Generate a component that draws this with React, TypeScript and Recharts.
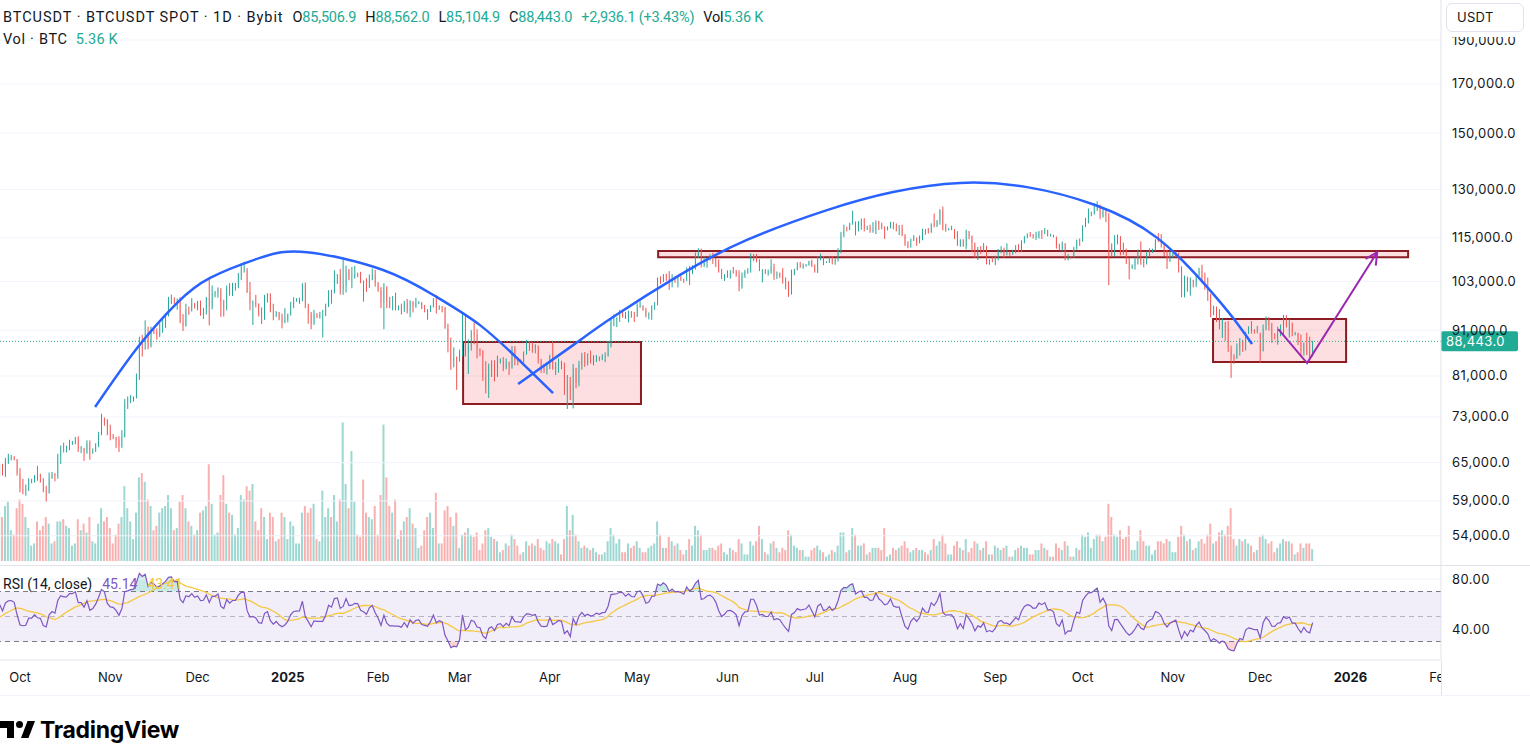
import { Area, Bar, ComposedChart, Line, ReferenceArea, ReferenceLine, Scatter, XAxis, YAxis } from "recharts";

const FONT = "Inter, 'Noto Sans', sans-serif";
const LEGEND_FONT = "Roboto, 'Noto Sans', sans-serif";
const TEXT = "#131722";
const GRID = "#f0f3fa";
const BORDER = "#e0e3eb";
const UP = "#26a69a";
const DOWN = "#ef5350";
const UP_VOL = "rgba(38,166,154,0.45)";
const DOWN_VOL = "rgba(239,83,80,0.45)";
const GREEN_TEXT = "#22ab94";
const BLUE = "#2962ff";
const MAROON = "#8a1c22";
const PURPLE = "#9c27b0";
const RSI_LINE = "#7e57c2";
const RSI_MA = "#f5c842";

const W = 1530;
const AXIS_W = 89;
const PRICE_H = 565;
const RSI_H = 95;
const TIME_H = 35;

// day index: 0 = 1 Oct 2024
const FIRST_DAY = -7;
const X_DOMAIN: [number, number] = [-6.87, 488.1];
const PRICE_DOMAIN: [number, number] = [50140, 210300];
const priceTicks = [54000, 59000, 65000, 73000, 81000, 91000, 103000, 115000, 130000, 150000, 170000, 190000];
const monthTicks = [0, 31, 61, 92, 123, 151, 182, 212, 243, 273, 304, 335, 365, 396, 426, 457, 488];
const monthLabels = ["Oct", "Nov", "Dec", "2025", "Feb", "Mar", "Apr", "May", "Jun", "Jul", "Aug", "Sep", "Oct", "Nov", "Dec", "2026", "Feb"];

// closes before the visible range (26 Aug - 23 Sep 2024), only used to seed RSI, in thousands
const warmupCloses = [
  62.9, 59.5, 59.0, 59.4, 59.1, 58.9, 57.3, 59.1, 57.5, 58.0, 56.2, 53.9, 54.2, 54.9,
  57.0, 57.6, 57.3, 58.1, 60.5, 60.0, 59.1, 58.2, 60.3, 61.8, 62.9, 63.2, 63.3, 63.6, 63.3,
];

// daily closes, thousands USDT, 24 Sep 2024 - 19 Dec 2025
const closes = [
  64.3, 63.1, 65.2, 65.8, 65.9, 65.6, 63.3,
  60.8, 60.6, 60.7, 62.1, 62.1, 62.8, 62.2, 62.1, 60.6, 60.3, 62.5, 63.2, 62.9, 66.1, 67.6, 67.4, 67.4, 68.4, 68.4, 69.0, 67.4, 67.4, 66.7, 68.2, 66.6, 67.0, 68.0, 69.9, 72.7, 72.3, 70.2,
  69.5, 69.4, 68.8, 67.8, 69.4, 75.6, 75.9, 76.5, 76.7, 80.4, 88.7, 88.0, 90.5, 87.3, 91.1, 90.6, 89.8, 90.5, 92.3, 94.3, 98.4, 98.9, 97.7, 98.0, 93.0, 91.9, 95.9, 95.6, 97.5, 96.4,
  97.2, 95.8, 96.0, 98.8, 96.6, 99.9, 99.9, 101.2, 97.4, 96.7, 101.2, 100.0, 101.4, 101.4, 104.3, 106.1, 106.1, 100.2, 97.5, 97.8, 97.2, 95.2, 94.9, 98.7, 99.4, 95.8, 94.2, 95.2, 93.7, 92.8, 93.4,
  94.6, 96.9, 98.1, 98.2, 98.3, 102.1, 96.9, 95.0, 92.5, 94.7, 94.5, 94.5, 94.5, 96.5, 100.5, 99.9, 104.1, 104.5, 101.1, 102.0, 106.1, 103.7, 103.9, 104.8, 104.7, 102.6, 102.1, 101.3, 103.7, 104.7, 102.4,
  100.6, 97.7, 101.4, 97.9, 96.6, 96.6, 96.5, 96.5, 96.1, 97.4, 95.7, 97.9, 96.6, 97.5, 97.6, 96.1, 95.8, 95.5, 96.6, 98.3, 96.1, 96.6, 96.3, 91.5, 88.7, 84.3, 84.7, 84.3,
  86.0, 94.3, 86.1, 87.2, 90.6, 89.9, 86.7, 86.2, 80.7, 78.5, 82.9, 83.7, 81.1, 83.9, 84.3, 82.6, 84.0, 82.7, 86.8, 84.2, 84.1, 83.8, 86.1, 87.5, 87.4, 86.9, 87.2, 84.4, 82.6, 82.4, 82.5,
  85.2, 82.5, 83.1, 83.8, 83.5, 78.4, 79.2, 76.3, 82.6, 79.6, 83.4, 85.3, 83.7, 84.5, 83.7, 84.0, 84.9, 84.5, 85.1, 85.2, 87.5, 93.4, 93.7, 93.9, 94.7, 94.6, 93.8, 94.9, 94.3, 94.2,
  96.5, 96.9, 95.9, 94.3, 94.7, 96.8, 97.0, 103.2, 102.9, 104.6, 104.1, 102.8, 104.1, 103.5, 103.7, 103.5, 103.2, 106.4, 105.6, 106.8, 109.6, 111.7, 107.3, 107.8, 109.0, 109.4, 108.9, 107.8, 105.6, 103.9, 104.6,
  105.7, 105.8, 105.4, 104.7, 101.6, 104.4, 105.6, 105.7, 110.3, 110.3, 108.7, 105.9, 106.1, 105.5, 105.5, 106.8, 104.6, 104.9, 104.6, 103.3, 102.1, 101.0, 105.4, 106.0, 107.3, 106.9, 107.1, 107.3, 108.4, 107.1,
  105.7, 108.8, 109.6, 108.0, 108.2, 109.2, 108.3, 108.9, 111.3, 115.9, 117.5, 117.4, 119.1, 119.8, 117.7, 118.7, 119.3, 117.9, 117.9, 117.3, 117.4, 119.9, 118.8, 118.3, 117.6, 117.9, 119.4, 118.0, 117.8, 117.8, 115.7,
  113.3, 112.5, 114.2, 115.0, 114.1, 115.0, 117.5, 116.6, 116.5, 119.3, 118.7, 120.2, 123.3, 118.3, 117.4, 117.5, 117.5, 116.3, 112.9, 114.3, 112.5, 116.9, 115.4, 113.5, 110.1, 111.8, 111.2, 112.6, 108.4, 108.8, 108.2,
  109.2, 111.2, 111.7, 110.7, 110.7, 110.2, 111.1, 112.1, 111.5, 113.9, 115.5, 116.1, 115.9, 115.3, 115.4, 116.8, 116.5, 117.1, 115.7, 115.7, 115.3, 112.7, 112.0, 113.3, 109.0, 109.7, 109.6, 112.1, 114.4, 114.0,
  118.6, 120.6, 122.3, 122.4, 123.5, 124.8, 121.4, 123.3, 121.7, 113.2, 110.7, 115.2, 115.3, 113.1, 110.8, 108.2, 106.4, 107.2, 108.6, 110.5, 108.4, 107.6, 110.1, 111.0, 111.6, 114.5, 114.1, 112.9, 110.0, 108.3, 109.6,
  110.1, 110.6, 106.5, 101.5, 103.9, 101.3, 103.3, 102.3, 104.7, 105.9, 103.0, 101.6, 99.7, 94.6, 95.5, 94.2, 92.2, 92.9, 91.5, 86.6, 85.1, 84.7, 86.8, 88.3, 87.4, 90.5, 91.3, 90.9, 90.4, 90.4,
  86.3, 91.3, 93.5, 92.1, 89.4, 89.3, 90.4, 90.6, 92.7, 92.0, 92.5, 90.3, 90.3, 88.2, 86.4, 87.9, 86.1, 85.5069, 88.443,
];

// upper wick above the body, thousands
const upperWicks = [
  0.5, 0.5, 0.6, 0.7, 0.4, 0.2, 0,
  0.8, 1.6, 0.8, 0.4, 0.3, 0.2, 1.7, 1.0, 0.4, 0.7, 0.9, 0.3, 0.1, 0.4, 0.3, 0.8, 0.5, 0.5, 0.3, 0.4, 0.5, 0.4, 0.1, 0.6, 0.6, 0.4, 0.3, 0.4, 0.9, 0.2, 0.3,
  1.4, 0.4, 0, 0.7, 1.2, 0.8, 1.0, 0.7, 0.2, 1.1, 0.8, 1.2, 2.8, 1.3, 0.7, 0.8, 0.8, 2.1, 1.7, 0.6, 0.6, 0.7, 0, 0.6, 0.9, 1.8, 1.4, 0.7, 1.2, 0,
  0.8, 0.9, 0.3, 0.2, 4.8, 2.0, 0.6, 0.2, 0, 0.9, 0.7, 1.3, 1.2, 1.2, 0.9, 1.7, 2.2, 0.4, 2.6, 0.3, 1.7, 0.2, 1.2, 0.8, 0.5, 0.5, 1.5, 0.3, 0.1, 1.2, 2.8,
  0.3, 0.9, 0.8, 0.5, 0.5, 0.4, 0.6, 0.4, 0.3, 1.1, 0.3, 0.8, 1.3, 0.8, 0.2, 0.3, 1.8, 0.4, 1.8, 7.4, 1.1, 0.2, 2.9, 2.3, 0.5, 0.8, 0.6, 1.7, 1.1, 1.7, 1.3,
  0.4, 0.9, 1.1, 0.3, 1.1, 2.6, 3.5, 0.4, 0.8, 0.6, 1.1, 0.2, 0, 1.3, 0.3, 0.1, 0.9, 0.2, 0.3, 0.4, 1.2, 0.3, 0.1, 0.2, 1.0, 0.6, 2.4, 0.4,
  0.6, 0.7, 0.1, 1.7, 0.4, 2.2, 1.3, 0.2, 0.3, 3.4, 0.7, 0.6, 0.6, 1.4, 0.4, 0.7, 0.7, 0, 0.6, 0.6, 0.6, 0.4, 0.1, 1.3, 1.0, 0.9, 0.6, 0.3, 0.2, 0.9, 1.4,
  0.3, 3.3, 0.8, 0.9, 0.4, 0.3, 2.0, 1.6, 0.9, 0.1, 0.8, 0.6, 0.8, 1.3, 1.9, 1.4, 0.5, 0.2, 0.5, 0.8, 1.0, 0.5, 1.0, 0.1, 1.1, 0.6, 0.7, 0.7, 0.6, 1.0,
  0.9, 1.0, 0, 0.4, 0.5, 0.1, 0.7, 0.8, 1.1, 0.3, 0.4, 1.6, 0.8, 0.2, 0.5, 0.8, 0.2, 0.3, 0.7, 0.5, 1.2, 0.3, 0.2, 1.7, 0.3, 1.0, 1.3, 0.4, 1.1, 0.7, 0.3,
  0.2, 0.1, 1.0, 0.6, 1.2, 0.9, 0.4, 0.8, 0.3, 0.1, 0.1, 0.2, 0.1, 0.1, 0.6, 2.1, 0.9, 0.7, 0.4, 1.9, 0.7, 0.9, 0.7, 0.3, 0.8, 0.9, 0.7, 0.3, 0.1, 0.4,
  0.4, 1.0, 0.9, 0.2, 0.2, 0.5, 0.5, 0.3, 0.7, 0.9, 1.4, 0.8, 0.4, 3.4, 0.1, 1.3, 1.5, 1.6, 0.7, 1.0, 2.3, 0.3, 0.2, 0.7, 0.1, 0.5, 0.4, 0.4, 1.3, 1.0, 1.1,
  0.4, 0.7, 0.6, 0.8, 0.1, 0.7, 0.2, 0.1, 1.3, 0, 3.0, 0.1, 0.4, 1.2, 0.9, 0.4, 1.1, 0.1, 0.7, 0.3, 0.3, 0.5, 0.1, 0.3, 0.1, 0.6, 0.8, 0.9, 0.1, 0.1, 0.7,
  0.7, 0.6, 0.9, 0.5, 2.7, 0.5, 0.5, 0.8, 1.1, 0.4, 0, 0.2, 0.6, 0.2, 1.4, 0.2, 0.5, 0.8, 0.3, 0.5, 0.2, 0.1, 0.6, 0.6, 0.2, 0.6, 0.1, 0.3, 0.1, 0.4,
  0.1, 0.4, 1.6, 0.5, 1.9, 1.4, 0.3, 0.9, 0.5, 0.8, 0.2, 0.6, 0.7, 0.2, 0.5, 1.1, 1.1, 0.3, 0.8, 1.2, 3.5, 0.6, 1.1, 1.0, 0.3, 0.1, 1.9, 2.0, 0.7, 1.6, 1.6,
  0.5, 0.6, 0.2, 0.5, 0.6, 0.3, 0.7, 0.1, 0.3, 0.7, 1.5, 2.3, 2.4, 0.1, 1.3, 1.1, 1.8, 0.9, 0, 1.6, 0.9, 0.5, 1.2, 0.9, 0.5, 0.1, 0.6, 1.8, 0.3, 1.6,
  0, 1.0, 0.7, 0.6, 0.6, 0.9, 1.4, 1.7, 1.9, 1.8, 1.1, 0.3, 0.3, 0.1, 1.8, 0.3, 2.5, 3.4, 0.119,
];

// lower wick below the body, thousands
const lowerWicks = [
  0.6, 0.2, 0.4, 0.4, 0.4, 0.2, 0.4,
  0.5, 0.6, 0.8, 0.2, 0.4, 0.3, 0.1, 0.3, 0.3, 1.4, 0.2, 0.1, 0.9, 0.5, 1.3, 0.7, 0.7, 0.3, 0.4, 0.3, 0.6, 0.8, 1.4, 0.2, 1.1, 0.1, 0.2, 0.4, 0.2, 0.9, 0.5,
  0.7, 0.4, 1.3, 1.0, 0.3, 0.1, 1.1, 0.3, 0.6, 0.2, 0.2, 2.9, 1.4, 0.6, 0.2, 0.5, 1.0, 0.4, 0.1, 0.8, 0.1, 1.2, 0.5, 1.9, 0.4, 1.1, 0.1, 1.0, 0.2, 0.3,
  0.7, 1.4, 2.2, 1.3, 4.5, 0.7, 1.0, 1.1, 3.3, 2.5, 1.0, 0.7, 0.8, 0.8, 0.2, 1.0, 0.8, 0.2, 1.8, 5.3, 0.8, 1.0, 2.5, 1.5, 1.1, 0.6, 0.9, 0.1, 0.4, 1.4, 0.2,
  0.6, 0.2, 0.7, 0.3, 0.9, 0.4, 0.7, 2.5, 1.3, 0.3, 0.7, 0.8, 5.2, 0.2, 0, 2.6, 0, 1.8, 1.5, 1.6, 1.9, 0.4, 2.5, 0.2, 0.6, 0.1, 4.3, 1.0, 0, 0.4, 0.8,
  0.3, 1.5, 6.5, 1.7, 0.4, 0.9, 0.8, 0.8, 1.4, 0.8, 0.8, 1.7, 1.4, 0.3, 0.3, 0.1, 0.6, 2.1, 0.2, 0.2, 1.2, 0.3, 1.1, 0.2, 2.7, 2.0, 1.5, 6.1,
  0.3, 0.9, 1.0, 4.7, 0.8, 2.1, 2.0, 1.0, 0.7, 1.0, 1.9, 2.1, 1.2, 0.3, 0.3, 0.6, 0.2, 1.5, 0.2, 1.0, 0.9, 0.1, 0, 0.6, 1.1, 1.0, 1.1, 0.8, 1.0, 0.8, 1.1,
  0.1, 0.2, 1.3, 1.4, 1.1, 1.2, 3.9, 0.1, 1.7, 1.1, 0.7, 1.1, 0.8, 0.5, 0.1, 0.5, 0.1, 0.4, 0.2, 1.2, 0.1, 0.4, 1.5, 2.0, 1.0, 0.7, 0.2, 1.0, 0.4, 1.3,
  0.1, 0.2, 0.3, 0.3, 0.8, 1.3, 1.0, 0.1, 0.6, 0.1, 1.0, 2.0, 1.4, 0.9, 2.1, 0.4, 0.6, 0.1, 3.6, 0.7, 0.7, 0.3, 0.6, 0.5, 1.2, 0.4, 1.3, 1.0, 0.3, 0.3, 0.8,
  0.7, 2.0, 0.4, 0.5, 1.2, 0.5, 0.5, 0.6, 0.4, 1.9, 0.6, 0.2, 3.2, 0.6, 1.0, 0.5, 1.2, 1.0, 0.7, 0.9, 1.2, 2.0, 1.4, 0.8, 0.1, 0.3, 0.6, 0.2, 0.1, 0.3,
  0.4, 0.5, 0.2, 0.7, 0.1, 0.3, 0.8, 0.9, 0.6, 0.7, 0.7, 0.5, 0.1, 0.2, 2.0, 0.8, 1.3, 1.0, 0.6, 0.8, 0.8, 1.3, 1.5, 0.8, 2.9, 0.4, 0.1, 0.5, 0.9, 2.0, 0.2,
  0.6, 0.5, 0.3, 0.1, 1.4, 0.7, 0.7, 0.7, 0.2, 0, 0.6, 0.5, 1.3, 1.1, 0.6, 0.2, 0.2, 1.6, 0.2, 0.5, 0.1, 0.8, 0.8, 2.6, 0.8, 1.4, 0.8, 0.3, 0.9, 1.0, 0.1,
  0.9, 0.6, 0.6, 1.4, 0.7, 0.3, 0, 0.5, 0.6, 0.6, 0.5, 0.6, 0.6, 0.5, 0.9, 0.6, 1.8, 0.4, 0.3, 0.3, 0.2, 0.8, 0.6, 0.9, 0.4, 0.4, 0.5, 0.3, 0.5, 1.3,
  0.1, 0.4, 1.3, 0.8, 0.4, 0.4, 0.8, 0.3, 2.0, 11.2, 1.1, 1.0, 2.1, 3.1, 0.6, 0.6, 2.9, 0.1, 1.1, 1.1, 1.0, 0.9, 0.1, 0.5, 0.3, 0.3, 0.3, 0.7, 0.2, 2.0, 0.1,
  0.2, 0.6, 1.2, 2.6, 2.6, 1.0, 2.0, 0.9, 0.8, 0.4, 0.5, 0.8, 1.7, 0.6, 0.1, 1.3, 1.0, 3.0, 2.9, 0.5, 4.5, 1.2, 0.1, 1.5, 1.3, 1.0, 0.4, 0.7, 0.2, 0.1,
  2.5, 0.1, 0.3, 1.2, 1.3, 0.4, 1.6, 0.8, 1.0, 0.4, 2.7, 0.7, 0.5, 0.6, 1.2, 1.1, 0.7, 1.0, 0.402,
];

// volume, thousand BTC
const volumes = [
  22, 20, 25, 27, 14, 12, 24,
  28, 26, 20, 15, 7, 8, 18, 14, 16, 20, 17, 8, 9, 18, 18, 19, 16, 15, 7, 8, 19, 14, 17, 13, 20, 9, 8, 17, 24, 18, 20,
  15, 8, 12, 17, 20, 34, 24, 18, 10, 22, 38, 40, 36, 28, 25, 14, 16, 22, 24, 25, 30, 24, 14, 15, 27, 30, 24, 18, 16, 12,
  14, 22, 23, 25, 44, 26, 12, 13, 30, 39, 26, 22, 21, 12, 15, 30, 28, 34, 32, 35, 18, 14, 24, 20, 10, 22, 20, 9, 10, 22, 20,
  10, 18, 16, 8, 8, 22, 25, 22, 24, 26, 10, 9, 32, 20, 24, 20, 30, 18, 28, 63, 35, 24, 50, 27, 12, 11, 37, 22, 20, 19, 25,
  12, 30, 62, 38, 25, 22, 28, 10, 14, 18, 20, 24, 17, 15, 6, 7, 14, 20, 22, 15, 31, 8, 8, 23, 25, 20, 16, 22,
  6, 12, 13, 15, 12, 11, 13, 5, 8, 14, 15, 11, 10, 9, 4, 5, 8, 7, 12, 10, 7, 3, 4, 9, 7, 8, 7, 10, 6, 5, 9,
  8, 10, 9, 8, 3, 10, 25, 14, 21, 12, 9, 6, 7, 6, 5, 6, 4, 3, 3, 4, 9, 15, 12, 8, 10, 4, 4, 8, 6, 7,
  9, 6, 4, 4, 6, 7, 8, 18, 12, 6, 6, 11, 9, 7, 8, 5, 3, 5, 10, 7, 16, 14, 12, 5, 5, 6, 6, 5, 7, 8, 4,
  3, 6, 5, 4, 10, 8, 3, 3, 9, 7, 9, 16, 10, 4, 3, 8, 9, 6, 4, 6, 5, 14, 12, 7, 6, 5, 5, 2, 2, 5,
  6, 7, 5, 4, 2, 3, 5, 4, 7, 13, 13, 4, 5, 15, 12, 7, 7, 8, 3, 4, 6, 6, 6, 5, 15, 2, 3, 6, 5, 6, 7,
  9, 6, 4, 5, 6, 5, 5, 4, 3, 5, 10, 7, 9, 12, 8, 3, 3, 7, 9, 6, 5, 10, 4, 6, 9, 8, 5, 6, 9, 3, 3,
  7, 6, 5, 6, 7, 2, 2, 5, 6, 7, 6, 6, 3, 3, 5, 5, 8, 6, 5, 2, 2, 8, 6, 5, 9, 7, 2, 2, 6, 5,
  12, 11, 13, 6, 10, 12, 12, 9, 11, 26, 20, 12, 11, 14, 10, 11, 16, 5, 5, 9, 14, 9, 7, 7, 3, 5, 9, 9, 8, 10, 9,
  4, 4, 11, 16, 12, 9, 10, 5, 6, 9, 10, 8, 12, 17, 8, 9, 13, 14, 12, 16, 24, 10, 7, 10, 9, 10, 8, 7, 4, 5,
  11, 12, 10, 8, 9, 4, 6, 8, 10, 9, 9, 8, 3, 4, 8, 6, 8, 8, 5.36,
];

// drawings, in (day, price)
const leftArc = [
  { d: 25.8, p: 74860 }, { d: 40.5, p: 87170 }, { d: 53.9, p: 97470 }, { d: 65.3, p: 103900 },
  { d: 82.4, p: 109300 }, { d: 98.6, p: 110900 }, { d: 124.7, p: 106000 }, { d: 143.2, p: 98950 },
  { d: 158.0, p: 92160 }, { d: 171.8, p: 84130 }, { d: 183.1, p: 77560 },
];
const bigArc = [
  { d: 171.1, p: 79360 }, { d: 190.0, p: 87600 }, { d: 203.7, p: 94070 }, { d: 226.7, p: 104700 },
  { d: 249.7, p: 114400 }, { d: 277.2, p: 123400 }, { d: 299.9, p: 129200 }, { d: 322.9, p: 132200 },
  { d: 345.9, p: 130800 }, { d: 369.3, p: 125000 }, { d: 390.6, p: 115000 }, { d: 407.8, p: 101500 },
  { d: 416.7, p: 93820 }, { d: 423.2, p: 87830 },
];
const boxes = [
  { d1: 152.2, d2: 213.3, p1: 75430, p2: 88270 },
  { d1: 219.2, d2: 476.8, p1: 109500, p2: 111200 },
  { d1: 409.8, d2: 455.5, p1: 83900, p2: 93590 },
];
const projection = [{ d: 432.2, p: 91240 }, { d: 442.1, p: 83700 }, { d: 466.2, p: 110900 }];
const arrowHead = [{ d: 465.7, p: 107200 }, { d: 466.2, p: 110900 }, { d: 462.2, p: 109000 }];

function rsi(cl: number[], n = 14) {
  const out: (number | null)[] = cl.map(() => null);
  let g = 0;
  let l = 0;
  for (let i = 1; i <= n; i++) {
    const ch = cl[i] - cl[i - 1];
    g += Math.max(ch, 0);
    l += Math.max(-ch, 0);
  }
  g /= n;
  l /= n;
  out[n] = 100 - 100 / (1 + g / l);
  for (let i = n + 1; i < cl.length; i++) {
    const ch = cl[i] - cl[i - 1];
    g = (g * (n - 1) + Math.max(ch, 0)) / n;
    l = (l * (n - 1) + Math.max(-ch, 0)) / n;
    out[i] = l === 0 ? 100 : 100 - 100 / (1 + g / l);
  }
  return out;
}

const allCloses = [...warmupCloses, ...closes];
const rsiAll = rsi(allCloses);
const rsiMaAll = rsiAll.map((_, i) => {
  const win = rsiAll.slice(i - 13, i + 1);
  if (i < 13 || win.some((v) => v == null)) return null;
  return (win as number[]).reduce((a, b) => a + b, 0) / 14;
});

const rows = closes.map((c, i) => {
  const o = i === 0 ? warmupCloses[warmupCloses.length - 1] : closes[i - 1];
  const h = Math.max(o, c) + upperWicks[i];
  const l = Math.min(o, c) - lowerWicks[i];
  const r = rsiAll[i + warmupCloses.length] as number;
  return {
    d: FIRST_DAY + i,
    o: o * 1000,
    h: h * 1000,
    l: l * 1000,
    c: c * 1000,
    range: [l * 1000, h * 1000],
    vol: volumes[i],
    rsi: r,
    rsiMa: rsiMaAll[i + warmupCloses.length],
    ob: [70, Math.max(70, r)],
    os: [Math.min(30, r), 30],
  };
});
const last = rows[rows.length - 1];

const fmtPrice = (v: number) => v.toLocaleString("en-US", { minimumFractionDigits: 1, maximumFractionDigits: 1 });

function Candle(props: any) {
  const { x, y, width, height, payload } = props;
  if (!payload || !height) return null;
  const lh = Math.log(payload.h);
  const ll = Math.log(payload.l);
  const toY = (v: number) => y + ((lh - Math.log(v)) / (lh - ll)) * height;
  const color = payload.c >= payload.o ? UP : DOWN;
  const yo = toY(payload.o);
  const yc = toY(payload.c);
  const cx = x + width / 2;
  return (
    <g>
      <line x1={cx} x2={cx} y1={y} y2={y + height} stroke={color} strokeWidth={1} />
      <rect x={x} y={Math.min(yo, yc)} width={width} height={Math.max(1, Math.abs(yc - yo))} fill={color} />
    </g>
  );
}

function VolumeBar(props: any) {
  const { x, y, width, height, payload } = props;
  if (!payload) return null;
  return <rect x={x} y={y} width={width} height={height} fill={payload.c >= payload.o ? UP_VOL : DOWN_VOL} />;
}

const NoMark = () => <g />;

function PriceTick({ x, y, payload }: any) {
  return (
    <text x={x} y={y} dy={4.5} fontSize={13} fill={TEXT} fontFamily={FONT} letterSpacing={0.4}>
      {fmtPrice(payload.value)}
    </text>
  );
}

function RsiTick({ x, y, payload }: any) {
  return (
    <text x={x} y={y} dy={4.5} fontSize={13} fill={TEXT} fontFamily={FONT} letterSpacing={0.4}>
      {payload.value.toFixed(2)}
    </text>
  );
}

function TimeTick({ x, y, payload }: any) {
  const label = monthLabels[monthTicks.indexOf(payload.value)];
  const bold = /^\d{4}$/.test(label);
  return (
    <text x={x} y={y + 22} textAnchor="middle" fontSize={13} fontWeight={bold ? 700 : 400} fill={TEXT} fontFamily={FONT}>
      {label}
    </text>
  );
}

function PriceTag(props: any) {
  const vb = props.viewBox;
  if (!vb) return null;
  const x = vb.x + vb.width;
  return (
    <g>
      <rect x={x} y={vb.y - 10} width={77} height={20} rx={2} fill={GREEN_TEXT} />
      <text x={x + 5} y={vb.y + 4.5} fill="#fff" fontSize={13} fontFamily={FONT} letterSpacing={0.4}>
        {fmtPrice(last.c)}
      </text>
    </g>
  );
}

function VolumeChart() {
  return (
    <ComposedChart width={W} height={PRICE_H} data={rows} margin={{ top: 0, right: AXIS_W, left: 0, bottom: 0 }}>
      <XAxis dataKey="d" type="number" domain={X_DOMAIN} allowDataOverflow hide />
      <YAxis yAxisId="p" scale="log" domain={PRICE_DOMAIN} allowDataOverflow hide />
      <YAxis yAxisId="v" domain={[-1.8, 255]} allowDataOverflow hide />
      {priceTicks.map((t) => (
        <ReferenceLine key={t} yAxisId="p" y={t} stroke={GRID} strokeWidth={1} />
      ))}
      <Bar yAxisId="v" dataKey="vol" barSize={2} shape={VolumeBar} isAnimationActive={false} />
    </ComposedChart>
  );
}

function PriceChart() {
  return (
    <ComposedChart width={W} height={PRICE_H} data={rows} margin={{ top: 0, right: 0, left: 0, bottom: 0 }}>
      <XAxis dataKey="d" type="number" domain={X_DOMAIN} allowDataOverflow hide />
      <YAxis
        yAxisId="p"
        orientation="right"
        width={AXIS_W}
        scale="log"
        domain={PRICE_DOMAIN}
        allowDataOverflow
        ticks={priceTicks}
        interval={0}
        tickSize={0}
        tickMargin={11}
        tickLine={false}
        axisLine={{ stroke: BORDER }}
        tick={PriceTick}
      />
      <ReferenceLine yAxisId="p" y={last.c} stroke={GREEN_TEXT} strokeDasharray="1 2" label={<PriceTag />} />
      <Bar yAxisId="p" dataKey="range" barSize={2} shape={Candle} isAnimationActive={false} />
      <Scatter yAxisId="p" data={leftArc} dataKey="p" shape={NoMark} line={{ stroke: BLUE, strokeWidth: 2.5 }} lineJointType="natural" isAnimationActive={false} />
      <Scatter yAxisId="p" data={bigArc} dataKey="p" shape={NoMark} line={{ stroke: BLUE, strokeWidth: 2.5 }} lineJointType="natural" isAnimationActive={false} />
      {boxes.map((b, i) => (
        <ReferenceArea
          key={i}
          yAxisId="p"
          x1={b.d1}
          x2={b.d2}
          y1={b.p1}
          y2={b.p2}
          fill="#f23645"
          fillOpacity={0.16}
          stroke={MAROON}
          strokeWidth={2}
        />
      ))}
      <Scatter yAxisId="p" data={projection} dataKey="p" shape={NoMark} line={{ stroke: PURPLE, strokeWidth: 2 }} lineJointType="linear" isAnimationActive={false} />
      <Scatter yAxisId="p" data={arrowHead} dataKey="p" shape={NoMark} line={{ stroke: PURPLE, strokeWidth: 2 }} lineJointType="linear" isAnimationActive={false} />
    </ComposedChart>
  );
}

function RsiChart() {
  return (
    <ComposedChart width={W} height={RSI_H + TIME_H} data={rows} margin={{ top: 0, right: 0, left: 0, bottom: 0 }}>
      <XAxis
        dataKey="d"
        type="number"
        domain={X_DOMAIN}
        allowDataOverflow
        ticks={monthTicks}
        interval={0}
        height={TIME_H}
        tickSize={0}
        tickMargin={0}
        tickLine={false}
        axisLine={{ stroke: BORDER }}
        tick={TimeTick}
      />
      <YAxis
        orientation="right"
        width={AXIS_W}
        domain={[15.2, 91.2]}
        allowDataOverflow
        ticks={[40, 80]}
        interval={0}
        tickSize={0}
        tickMargin={11}
        tickLine={false}
        axisLine={{ stroke: BORDER }}
        tick={RsiTick}
      />
      <ReferenceLine y={80} stroke={GRID} />
      <ReferenceLine y={40} stroke={GRID} />
      <ReferenceArea y1={30} y2={70} fill={RSI_LINE} fillOpacity={0.1} stroke="none" />
      <ReferenceLine y={70} stroke="#787b86" strokeDasharray="5 4" />
      <ReferenceLine y={50} stroke="rgba(120,123,134,0.5)" strokeDasharray="5 4" />
      <ReferenceLine y={30} stroke="#787b86" strokeDasharray="5 4" />
      <Area dataKey="ob" type="linear" stroke="none" fill={UP} fillOpacity={0.25} isAnimationActive={false} />
      <Area dataKey="os" type="linear" stroke="none" fill={DOWN} fillOpacity={0.25} isAnimationActive={false} />
      <Line dataKey="rsiMa" type="linear" stroke={RSI_MA} strokeWidth={1.3} dot={false} isAnimationActive={false} />
      <Line dataKey="rsi" type="linear" stroke={RSI_LINE} strokeWidth={1.2} dot={false} isAnimationActive={false} />
    </ComposedChart>
  );
}

function Logo() {
  return (
    <div style={{ position: "absolute", left: 0, top: 716, display: "flex", alignItems: "center", gap: 5 }}>
      <svg width={35} height={18} viewBox="0 0 35 18">
        <polygon points="0,0 14,0 14,17 7,17 7,7 0,7" fill="#000" />
        <circle cx={19.5} cy={3.5} r={3.5} fill="#000" />
        <polygon points="21,17 27.5,0 35,0 28.5,17" fill="#000" />
      </svg>
      <span style={{ fontSize: 23, fontWeight: 700, letterSpacing: -0.3, color: "#000" }}>TradingView</span>
    </div>
  );
}

export default function App() {
  const change = last.c - last.o;
  const pct = (change / last.o) * 100;
  const legend: [string, number][] = [["O", last.o], ["H", last.h], ["L", last.l], ["C", last.c]];
  const legendStyle = { position: "absolute" as const, left: 3, fontFamily: LEGEND_FONT, fontSize: 14.5, letterSpacing: -0.2, lineHeight: "18px", whiteSpace: "nowrap" as const };
  return (
    <div style={{ position: "fixed", left: 0, top: 0, width: W, height: 751, background: "#fff", fontFamily: FONT, color: TEXT, overflow: "hidden" }}>
      <div style={{ position: "absolute", left: 0, top: 0 }}>
        <VolumeChart />
      </div>
      <div style={{ position: "absolute", left: 0, top: 0 }}>
        <PriceChart />
      </div>
      <div style={{ position: "absolute", left: 0, top: PRICE_H }}>
        <RsiChart />
      </div>

      <div style={{ position: "absolute", left: 0, top: PRICE_H, width: W, height: 1, background: BORDER }} />
      <div style={{ position: "absolute", left: 1441, top: PRICE_H + RSI_H + 1, width: W - 1441, height: TIME_H - 1, background: "#fff", borderLeft: `1px solid ${BORDER}` }} />
      <div style={{ position: "absolute", left: 0, top: PRICE_H + RSI_H + TIME_H, width: W, height: 1, background: "#f0f3fa" }} />

      <div style={{ position: "absolute", left: 1442, top: 0, width: W - 1442, height: 37, background: "#fff" }} />
      <div style={{ position: "absolute", left: 1446, top: 3, width: 78, height: 29, boxSizing: "border-box", border: `1px solid ${BORDER}`, borderRadius: 6, fontSize: 13, lineHeight: "27px", paddingLeft: 10, letterSpacing: 0.3 }}>
        USDT
      </div>

      <div style={{ ...legendStyle, top: 9 }}>
        <span style={{ letterSpacing: 0.95 }}>BTCUSDT · BTCUSDT SPOT · 1D · Bybit</span>
        {legend.map(([k, v]) => (
          <span key={k} style={{ marginLeft: 9 }}>
            {k}
            <span style={{ color: GREEN_TEXT }}>{fmtPrice(v)}</span>
          </span>
        ))}
        <span style={{ marginLeft: 9, color: GREEN_TEXT }}>
          +{fmtPrice(change)} (+{pct.toFixed(2)}%)
        </span>
        <span style={{ marginLeft: 9 }}>
          Vol<span style={{ color: GREEN_TEXT }}>{volumes[volumes.length - 1].toFixed(2)} K</span>
        </span>
      </div>
      <div style={{ ...legendStyle, top: 31, letterSpacing: 0.2 }}>
        <span style={{ letterSpacing: 0.7 }}>Vol · BTC</span>
        <span style={{ marginLeft: 8, color: GREEN_TEXT }}>{volumes[volumes.length - 1].toFixed(2)} K</span>
      </div>

      <div style={{ ...legendStyle, top: 575, fontSize: 14, letterSpacing: 0 }}>
        RSI (14, close)
        <span style={{ marginLeft: 10, color: RSI_LINE }}>45.14</span>
        <span style={{ marginLeft: 10, color: RSI_MA }}>43.41</span>
      </div>

      <Logo />
    </div>
  );
}
